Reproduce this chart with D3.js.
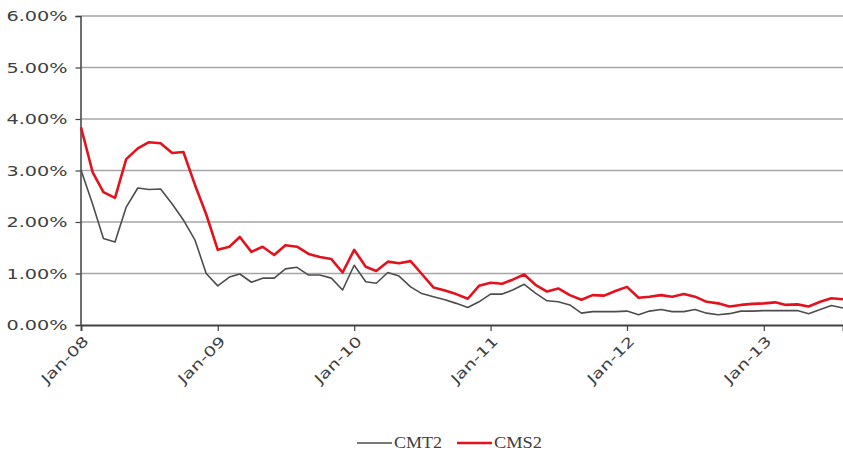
<!DOCTYPE html>
<html>
<head>
<meta charset="utf-8">
<script src="https://cdn.jsdelivr.net/npm/d3@7"></script>
<style>
  html, body { margin: 0; padding: 0; background: #fff; }
  svg { display: block; }
</style>
</head>
<body>
<svg id="chart" width="843" height="454"></svg>
<script>
// ---- data ----
const startMonth = "2008-01";
const endMonth = "2013-08";
const seriesNames = ["CMT2", "CMS2"];
const cmt2 = [3.01, 2.35, 1.68, 1.61, 2.29, 2.66, 2.63, 2.64, 2.35, 2.04, 1.65, 1.00, 0.76,
  0.93, 0.99, 0.83, 0.91, 0.91, 1.09, 1.12, 0.97, 0.97, 0.91, 0.68, 1.16,
  0.84, 0.81, 1.02, 0.95, 0.74, 0.61, 0.55, 0.49, 0.42, 0.34, 0.45, 0.60,
  0.60, 0.68, 0.79, 0.62, 0.47, 0.45, 0.39, 0.23, 0.26, 0.26, 0.26, 0.27,
  0.20, 0.27, 0.30, 0.26, 0.26, 0.30, 0.23, 0.20, 0.22, 0.27, 0.27, 0.28,
  0.28, 0.28, 0.28, 0.22, 0.30, 0.38, 0.33];
const cms2 = [3.84, 2.97, 2.58, 2.47, 3.22, 3.43, 3.55, 3.53, 3.34, 3.36, 2.72, 2.15, 1.46,
  1.52, 1.71, 1.42, 1.52, 1.36, 1.55, 1.52, 1.38, 1.32, 1.28, 1.02, 1.46,
  1.13, 1.05, 1.23, 1.20, 1.24, 0.99, 0.73, 0.67, 0.60, 0.51, 0.76, 0.82,
  0.80, 0.88, 0.98, 0.78, 0.65, 0.71, 0.58, 0.49, 0.58, 0.57, 0.66, 0.74,
  0.53, 0.55, 0.58, 0.55, 0.60, 0.55, 0.45, 0.42, 0.36, 0.39, 0.41, 0.42,
  0.44, 0.39, 0.40, 0.36, 0.45, 0.52, 0.50];
const yTicks = [0, 1, 2, 3, 4, 5, 6];
const xTickLabels = ["Jan-08", "Jan-09", "Jan-10", "Jan-11", "Jan-12", "Jan-13"];

// ---- setup ----
const parse = d3.timeParse("%Y-%m");
const t0 = parse(startMonth), t1 = parse(endMonth);
const months = d3.timeMonth.range(t0, d3.timeMonth.offset(t1, 1));

const svg = d3.select("#chart");
const mLeft = 81, mRight = 843, mTop = 16, mBottom = 325;

const x = d3.scaleTime().domain([t0, t1]).range([mLeft, mRight]);
const y = d3.scaleLinear().domain([0, 6]).range([mBottom, mTop]);

// gridlines
svg.append("g").selectAll("line").data(yTicks.filter(d => d > 0)).join("line")
  .attr("x1", mLeft).attr("x2", 843)
  .attr("y1", d => y(d)).attr("y2", d => y(d))
  .attr("stroke", "#a6a6a6").attr("stroke-width", 1.6);

// y axis
const yAxis = d3.axisLeft(y).tickValues(yTicks).tickSize(5).tickFormat(d => d3.format(".2f")(d) + "%");
const gy = svg.append("g").attr("transform", `translate(${mLeft - 0.5},0)`).call(yAxis);
gy.select(".domain").attr("stroke", "#404040").attr("stroke-width", 1.5);
gy.selectAll(".tick line").attr("stroke", "#404040").attr("stroke-width", 1.2);
gy.selectAll(".tick text")
  .attr("x", -13)
  .attr("font-family", "DejaVu Sans, Verdana, sans-serif")
  .attr("font-size", 14.5)
  .attr("fill", "#404040")
  .attr("textLength", 61).attr("lengthAdjust", "spacingAndGlyphs");

// x axis
const xTickDates = xTickLabels.map(s => d3.timeParse("%b-%y")(s));
const xAxis = d3.axisBottom(x).tickValues(xTickDates).tickSize(6).tickFormat(d3.timeFormat("%b-%y"));
const gx = svg.append("g").attr("transform", `translate(0,${mBottom})`).call(xAxis);
gx.select(".domain").attr("stroke", "#404040").attr("stroke-width", 1.8);
gx.selectAll(".tick line").attr("stroke", "#404040").attr("stroke-width", 1.2);
gx.selectAll(".tick text")
  .attr("font-family", "DejaVu Sans, Verdana, sans-serif")
  .attr("font-size", 14)
  .attr("fill", "#404040")
  .attr("text-anchor", "end")
  .attr("y", 0).attr("dy", 0)
  .attr("transform", "translate(8,17) rotate(-45)")
  .attr("textLength", 60).attr("lengthAdjust", "spacingAndGlyphs");

// lines
const line = d3.line().x((d, i) => x(months[i])).y(d => y(d));
svg.append("path").datum(cmt2).attr("d", line)
  .attr("fill", "none").attr("stroke", "#4d4d4d").attr("stroke-width", 1.6).attr("stroke-linejoin", "round");
svg.append("path").datum(cms2).attr("d", line)
  .attr("fill", "none").attr("stroke", "#e3121c").attr("stroke-width", 2.6).attr("stroke-linejoin", "round");

// legend
const legend = svg.append("g");
const legItems = [
  {name: seriesNames[0], color: "#4d4d4d", w: 1.6, x: 357},
  {name: seriesNames[1], color: "#e3121c", w: 2.6, x: 457}
];
legItems.forEach(it => {
  legend.append("line").attr("x1", it.x).attr("x2", it.x + 35)
    .attr("y1", 443).attr("y2", 443).attr("stroke", it.color).attr("stroke-width", it.w);
  legend.append("text").attr("x", it.x + 37).attr("y", 448)
    .attr("font-family", "Liberation Serif, Times New Roman, serif")
    .attr("font-size", 16).attr("fill", "#404040")
    .attr("textLength", 48).attr("lengthAdjust", "spacingAndGlyphs")
    .text(it.name);
});
</script>
</body>
</html>
